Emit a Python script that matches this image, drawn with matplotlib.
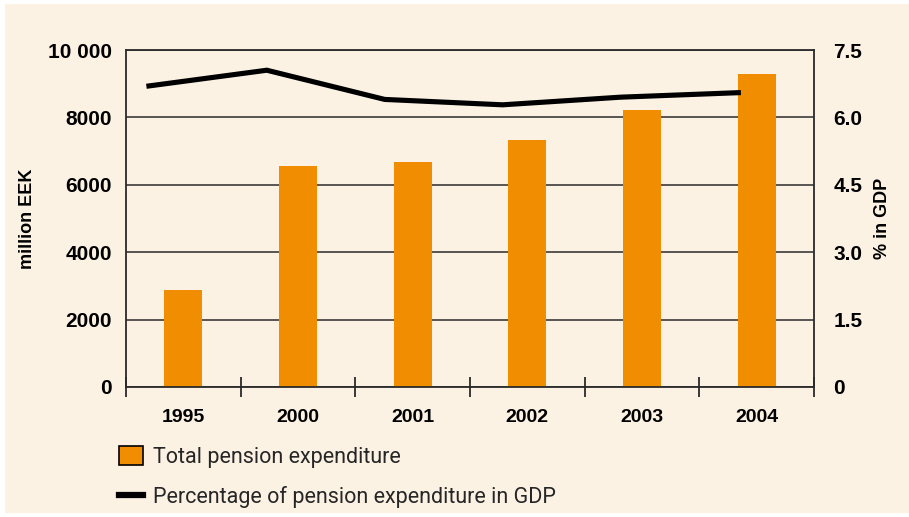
import numpy as np
import matplotlib
matplotlib.use('Agg')
import matplotlib.pyplot as plt
from matplotlib.patches import Patch, Rectangle
from matplotlib.lines import Line2D

years = ['1995', '2000', '2001', '2002', '2003', '2004']
pension_total = [2880, 6560, 6680, 7330, 8220, 9290]      # million EEK
pension_gdp = [6.70, 7.05, 6.40, 6.28, 6.45, 6.55]          # % in GDP
left_ticks = [0, 2000, 4000, 6000, 8000, 10000]
left_labels = ['0', '2000', '4000', '6000', '8000', '10 000']
right_ticks = [0, 1.5, 3.0, 4.5, 6.0, 7.5]
right_labels = ['0', '1.5', '3.0', '4.5', '6.0', '7.5']

cream = '#FCF2E4'
orange = '#F18D00'
dark = '#2a2a2a'
bold_font = ['Liberation Sans', 'DejaVu Sans']

fig = plt.figure(figsize=(9.09, 5.17), dpi=100, facecolor='white')
fig.patches.append(Rectangle((5/909, 4/517), 1, 509/517, transform=fig.transFigure,
                             facecolor=cream, edgecolor='none', zorder=-10))

ax = fig.add_axes([126/909, 1-387/517, 688/909, 337/517])
ax.set_facecolor('none')
x = np.arange(len(years))
ax.bar(x, pension_total, width=0.33, color=orange, zorder=2)
ax.set_xlim(-0.5, 5.5)
ax.set_ylim(0, 10000)
ax.set_axisbelow(True)
ax.yaxis.grid(True, color=dark, lw=1.1)

ax.set_yticks(left_ticks)
ax.set_yticklabels(left_labels, fontfamily=bold_font, fontweight='bold', fontsize=15)
ax.tick_params(axis='y', length=0, pad=10)

# category boundaries get the tick marks, labels sit at the bars
ax.set_xticks(np.arange(-0.5, 6, 1))
ax.set_xticklabels([])
ax.set_xticks(x, minor=True)
ax.set_xticklabels(years, minor=True, fontfamily=bold_font, fontweight='bold', fontsize=14)
ax.tick_params(axis='x', which='major', direction='inout', length=14, width=1.3, color=dark)
ax.tick_params(axis='x', which='minor', length=0, pad=16)

for s in ax.spines.values():
    s.set_color(dark)
    s.set_linewidth(1.3)

ax.set_ylabel('million EEK', fontfamily=bold_font, fontweight='bold', fontsize=13, labelpad=9)

ax2 = ax.twinx()
ax2.set_ylim(0, 7.5)
ax2.set_yticks(right_ticks)
ax2.set_yticklabels(right_labels, fontfamily=bold_font, fontweight='bold', fontsize=15)
ax2.tick_params(axis='y', which='both', right=True, length=0, pad=14)
for s in ax2.spines.values():
    s.set_visible(False)
ax2.set_ylabel('% in GDP', fontfamily=bold_font, fontweight='bold', fontsize=13, labelpad=8)

# the line points sit slightly left of the bars in the original
x_line = -0.3 + x * 1.028
ax2.plot(x_line, pension_gdp, color='black', lw=3.7, solid_joinstyle='miter', zorder=3)

handles = [Patch(facecolor=orange, edgecolor='black', lw=1.2),
           Line2D([0], [0], color='black', lw=4.5)]
fig.legend(handles, ['Total pension expenditure', 'Percentage of pension expenditure in GDP'],
           loc='upper left', bbox_to_anchor=(119/909, 1-446/517), frameon=False,
           borderpad=0, borderaxespad=0,
           prop={'family': ['Roboto', 'DejaVu Sans'], 'weight': 'normal', 'size': 15.5},
           labelcolor='#262626', handlelength=1.1, handleheight=0.95,
           handletextpad=0.5, labelspacing=0.85)

fig.savefig('out.png', dpi=100, facecolor='white')
